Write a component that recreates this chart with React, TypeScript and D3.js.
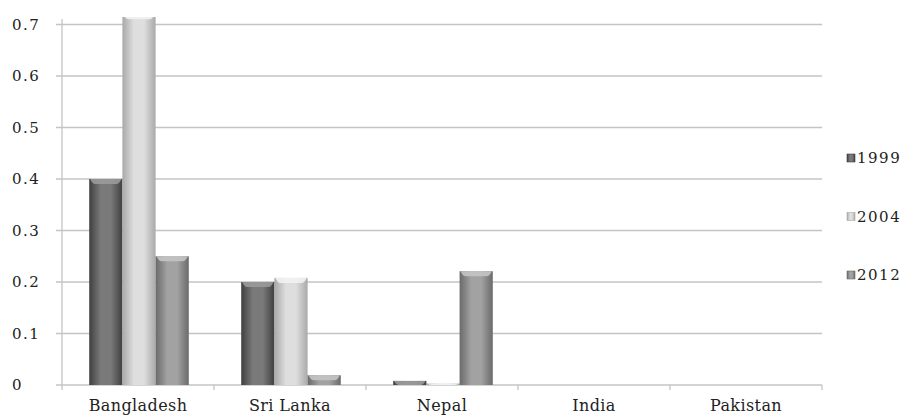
import React from "react";
import { scaleBand, scaleLinear } from "d3";

const countries = ["Bangladesh", "Sri Lanka", "Nepal", "India", "Pakistan"];
const years = ["1999", "2004", "2012"];
const values1999 = [0.4, 0.2, 0.008, 0, 0];
const values2004 = [0.72, 0.208, 0.003, 0, 0];
const values2012 = [0.25, 0.019, 0.221, 0, 0];
const yTicks = [0, 0.1, 0.2, 0.3, 0.4, 0.5, 0.6, 0.7];

const series = [values1999, values2004, values2012];
const colors = [
  { edge: "#3f3f3f", mid: "#7a7a7a", cap: "#9a9a9a" },
  { edge: "#a9a9a9", mid: "#dedede", cap: "#f2f2f2" },
  { edge: "#6a6a6a", mid: "#a2a2a2", cap: "#c4c4c4" },
];

const W = 917;
const H = 419;
const left = 62;
const right = 822;
const base = 385;
const top = 17;
const font = "'DejaVu Serif', 'Liberation Serif', serif";

export default function App() {
  const x = scaleBand().domain(countries).range([left, right]);
  const y = scaleLinear().domain([0, 0.7]).range([base, 24.5]);
  const inner = scaleBand().domain(years).range([2, x.bandwidth()]).paddingOuter(0.76).paddingInner(0);
  const bw = inner.bandwidth();

  return (
    <svg width={W} height={H} style={{ position: "absolute", left: 0, top: 0, background: "#fff" }}>
      <defs>
        {colors.map((c, i) => (
          <linearGradient key={i} id={"g" + i} x1="0" x2="1" y1="0" y2="0">
            <stop offset="0" stopColor={c.edge} />
            <stop offset="0.35" stopColor={c.mid} />
            <stop offset="0.65" stopColor={c.mid} />
            <stop offset="1" stopColor={c.edge} />
          </linearGradient>
        ))}
        <clipPath id="plot">
          <rect x={left} y={top} width={right - left} height={base - top} />
        </clipPath>
      </defs>

      {yTicks.map((t) => (
        <g key={t}>
          <line x1={left - 6} x2={right} y1={y(t)} y2={y(t)} stroke="#c4c4c4" strokeWidth={1.3} />
          <text x={12} y={y(t) + 5} fontFamily={font} fontSize={15} letterSpacing={1.5} fill="#222">
            {t === 0 ? "0" : t.toFixed(1)}
          </text>
        </g>
      ))}
      <line x1={left} x2={left} y1={top + 2} y2={base} stroke="#c4c4c4" strokeWidth={1.3} />
      {countries.concat([""]).map((c, i) => {
        const xx = left + i * x.bandwidth();
        return <line key={i} x1={xx} x2={xx} y1={base} y2={base + 5} stroke="#c4c4c4" strokeWidth={1.3} />;
      })}

      <g clipPath="url(#plot)">
        {countries.map((c, ci) =>
          series.map((vals, si) => {
            const v = vals[ci];
            if (v <= 0) return null;
            const bx = (x(c) as number) + (inner(years[si]) as number);
            const by = y(v);
            const h = base - by;
            const cap = Math.min(5, h);
            return (
              <g key={c + si}>
                <rect x={bx} y={by} width={bw} height={h} fill={`url(#g${si})`} />
                <path
                  d={`M${bx + 1},${by} L${bx + bw - 1},${by} Q${bx + bw - 3},${by + cap} ${bx + bw - 6},${by + cap} L${bx + 6},${by + cap} Q${bx + 3},${by + cap} ${bx + 1},${by} Z`}
                  fill={colors[si].cap}
                  opacity={0.9}
                />
              </g>
            );
          })
        )}
      </g>

      {countries.map((c) => (
        <text
          key={c}
          x={(x(c) as number) + x.bandwidth() / 2}
          y={411}
          textAnchor="middle"
          fontFamily={font}
          fontSize={16}
          letterSpacing={0.4}
          fill="#222"
        >
          {c}
        </text>
      ))}

      {years.map((yr, i) => {
        const ly = 158 + i * 58.5;
        return (
          <g key={yr}>
            <rect x={847} y={ly - 4} width={8} height={8} fill={`url(#g${i})`} stroke={colors[i].edge} strokeWidth={0.6} />
            <text x={857} y={ly + 5} fontFamily={font} fontSize={15} letterSpacing={1.5} fill="#222">
              {yr}
            </text>
          </g>
        );
      })}
    </svg>
  );
}
